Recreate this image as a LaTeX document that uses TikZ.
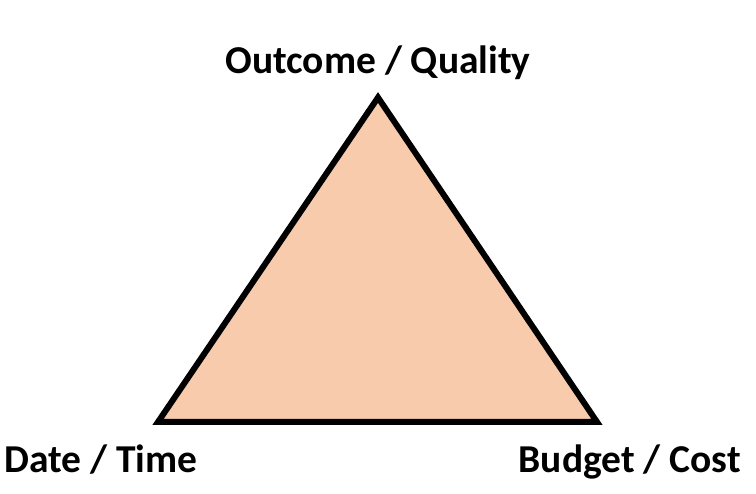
\documentclass[tikz,border=0pt]{standalone}
\usepackage{fontspec}
\setmainfont{Carlito}
\definecolor{peach}{HTML}{F8CBAD}
\begin{document}
\begin{tikzpicture}[x=1pt,y=-1pt,
  lbl/.style={inner sep=0pt,font=\fontsize{39.5}{47}\selectfont\bfseries},
  tri/.style={draw=black,fill=peach,line width=6pt,line join=miter}]
\useasboundingbox (0,0) rectangle (756,494);
\coordinate (top) at (378,97.5);
\coordinate (bl) at (158,422);
\coordinate (br) at (597,422);
\draw[tri] (top) -- (br) -- (bl) -- cycle;
\node[lbl,anchor=base] (q) at (378,74) {Outcome / Quality};
\node[lbl,anchor=base west] (t) at (4,473) {Date / Time};
\node[lbl,anchor=base east] (c) at (741,473) {Budget / Cost};
\end{tikzpicture}
\end{document}
